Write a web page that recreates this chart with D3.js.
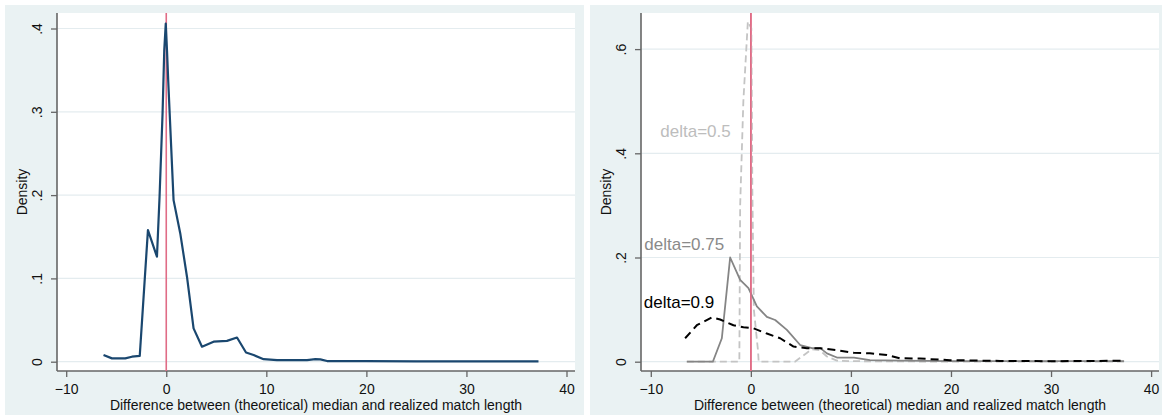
<!DOCTYPE html>
<html>
<head>
<meta charset="utf-8">
<script src="https://cdn.jsdelivr.net/npm/d3@7"></script>
<style>
  html, body { margin: 0; padding: 0; background: #ffffff; }
  svg { display: block; }
  text { font-family: "Liberation Sans", Arial, sans-serif; }
</style>
</head>
<body>
<svg id="chart" width="1162" height="419"></svg>
<script>
// ---------- data ----------
const xTicks = [-10, 0, 10, 20, 30, 40];
const yTicksLeft = [0, 0.1, 0.2, 0.3, 0.4];
const yTicksRight = [0, 0.2, 0.4, 0.6];
const yLabelsLeft = ["0", ".1", ".2", ".3", ".4"];
const yLabelsRight = ["0", ".2", ".4", ".6"];
const xTitle = "Difference between (theoretical) median and realized match length";
const yTitle = "Density";

// Left panel: pooled density
const pooledX = [-6.27,-5.43,-4.1,-3.43,-2.65,-1.83,-0.93,-0.67,-0.37,-0.2,-0.05,0.08,0.2,0.73,1.4,2.07,2.73,3.57,4.73,6.07,7.07,7.97,8.73,9.73,11.07,14.07,14.9,15.4,16.07,20,25,30,37.2];
const pooledY = [0.008,0.004,0.004,0.006,0.007,0.158,0.126,0.198,0.298,0.374,0.406,0.372,0.336,0.194,0.154,0.102,0.040,0.018,0.024,0.025,0.029,0.011,0.008,0.003,0.002,0.002,0.003,0.0028,0.0008,0.0006,0.0005,0.0005,0.0005];

// Right panel: densities by delta
const d05X = [-6.4,-3.8,-1.15,-1.07,-0.75,-0.3,0.05,0.15,0.3,0.72,0.78,4.4,6.1,6.9,7.6,8.6,10.3,15,20,25,30,37.3];
const d05Y = [0,0,0,0.30,0.50,0.653,0.64,0.33,0.10,0.02,0,0,0.024,0.022,0.01,0.002,0.001,0.0005,0.0003,0.0002,0.0002,0.0002];
const d075X = [-6.4,-3.8,-2.9,-2.07,-1.07,-0.24,0.6,1.6,2.43,3.6,4.93,6.1,6.94,7.6,8.6,10.3,11.9,15,20,25,30,37.3];
const d075Y = [0,0,0.045,0.2,0.157,0.141,0.106,0.086,0.080,0.061,0.032,0.026,0.026,0.016,0.008,0.008,0.003,0.002,0.001,0.001,0.001,0.001];
const d09X = [-6.57,-5.4,-3.9,-3.07,-1.74,-0.74,0.26,1.6,2.93,4.27,5.6,6.94,8.6,10.3,11.9,13.6,14.9,16.9,19.9,24.9,30,33.3,37.3];
const d09Y = [0.045,0.070,0.085,0.081,0.070,0.066,0.064,0.054,0.045,0.029,0.026,0.026,0.022,0.017,0.016,0.013,0.0065,0.006,0.003,0.0015,0.001,0.0012,0.002];

const deltaLabels = ["delta=0.5", "delta=0.75", "delta=0.9"];
const deltaLabelX = [-9.05, -10.65, -10.7];
const deltaLabelY = [0.431, 0.214, 0.103];

// ---------- drawing ----------
const svg = d3.select("#chart");
const BG = "#eaf2f3", GRID = "#e4ecef", AXIS = "#666666", RED = "#e06c86";

function panel(opt) {
  const g = svg.append("g");
  g.append("rect").attr("x", opt.bx).attr("y", 5).attr("width", opt.bw).attr("height", 410).attr("fill", BG);
  const pl = opt.px, pr = opt.px + 518, pt = 13, pb = 371;
  g.append("rect").attr("x", pl).attr("y", pt).attr("width", pr - pl).attr("height", pb - pt).attr("fill", "#ffffff");

  const x = d3.scaleLinear().domain([-10, 40]).range([opt.x0, opt.x0 + 500.3]);
  const y = d3.scaleLinear().domain([0, opt.ymax]).range([361.7, opt.ytop]);

  g.append("g").selectAll("line").data(opt.yTicks).join("line")
    .attr("x1", pl).attr("x2", pr).attr("y1", d => y(d)).attr("y2", d => y(d))
    .attr("stroke", GRID).attr("stroke-width", 1.2);

  const xa = g.append("g").attr("transform", `translate(0,${pb})`)
    .call(d3.axisBottom(x).tickValues(xTicks).tickSize(6).tickPadding(7).tickFormat(d3.format("d")));
  xa.select(".domain").remove();
  xa.selectAll("line").attr("stroke", AXIS).attr("stroke-width", 1.3);
  xa.selectAll("text").attr("font-size", 14).attr("fill", "#111").attr("font-family", "Liberation Sans, Arial, sans-serif");
  g.append("line").attr("x1", pl).attr("x2", pr).attr("y1", pb).attr("y2", pb).attr("stroke", AXIS).attr("stroke-width", 1.6);

  const ya = g.append("g").attr("transform", `translate(${pl},0)`)
    .call(d3.axisLeft(y).tickValues(opt.yTicks).tickSize(6).tickFormat((d, i) => opt.yLabels[i]));
  ya.select(".domain").remove();
  ya.selectAll("line").attr("stroke", AXIS).attr("stroke-width", 1.3);
  ya.selectAll("text").attr("font-size", 14).attr("fill", "#111")
    .attr("font-family", "Liberation Sans, Arial, sans-serif")
    .attr("x", null).attr("dy", "0.35em").attr("text-anchor", "middle")
    .attr("transform", "translate(-20,0) rotate(-90)");
  g.append("line").attr("x1", pl).attr("x2", pl).attr("y1", pt).attr("y2", pb).attr("stroke", AXIS).attr("stroke-width", 1.6);

  g.append("text").attr("x", (pl + pr) / 2).attr("y", 410).attr("text-anchor", "middle")
    .attr("font-size", 14).attr("fill", "#111").text(xTitle);
  g.append("text").attr("transform", `translate(${pl - 34.5},${(pt + pb) / 2}) rotate(-90)`)
    .attr("dy", "0.35em").attr("text-anchor", "middle").attr("font-size", 14).attr("fill", "#111").text(yTitle);

  g.append("line").attr("x1", x(0)).attr("x2", x(0)).attr("y1", pt).attr("y2", pb)
    .attr("stroke", RED).attr("stroke-width", 1.6);

  return { g, x, y };
}

const L = panel({ bx: 5, bw: 579, px: 57, x0: 66.2, ymax: 0.4, ytop: 28.5, yTicks: yTicksLeft, yLabels: yLabelsLeft });
const R = panel({ bx: 590, bw: 572, px: 641, x0: 650.8, ymax: 0.6, ytop: 49.1, yTicks: yTicksRight, yLabels: yLabelsRight });

function drawLine(P, xs, ys, color, width, dash) {
  const line = d3.line().x(d => P.x(d[0])).y(d => P.y(d[1]));
  P.g.append("path").datum(xs.map((v, i) => [v, ys[i]]))
    .attr("d", line).attr("fill", "none").attr("stroke", color)
    .attr("stroke-width", width).attr("stroke-linejoin", "round")
    .attr("stroke-dasharray", dash || null);
}

drawLine(L, pooledX, pooledY, "#1a476f", 2.2);

drawLine(R, d05X, d05Y, "#c4c4c4", 1.8, "7,4");
drawLine(R, d075X, d075Y, "#858585", 1.8);
drawLine(R, d09X, d09Y, "#000000", 2.0, "8,5");

R.g.append("line").attr("x1", R.x(0)).attr("x2", R.x(0)).attr("y1", 13).attr("y2", 371)
  .attr("stroke", RED).attr("stroke-width", 1.6);

const labelColors = ["#bdbdbd", "#8a8a8a", "#000000"];
R.g.append("g").selectAll("text").data(deltaLabels).join("text")
  .attr("x", (d, i) => R.x(deltaLabelX[i])).attr("y", (d, i) => R.y(deltaLabelY[i]))
  .attr("font-size", 17).attr("fill", (d, i) => labelColors[i]).text(d => d);
</script>
</body>
</html>
